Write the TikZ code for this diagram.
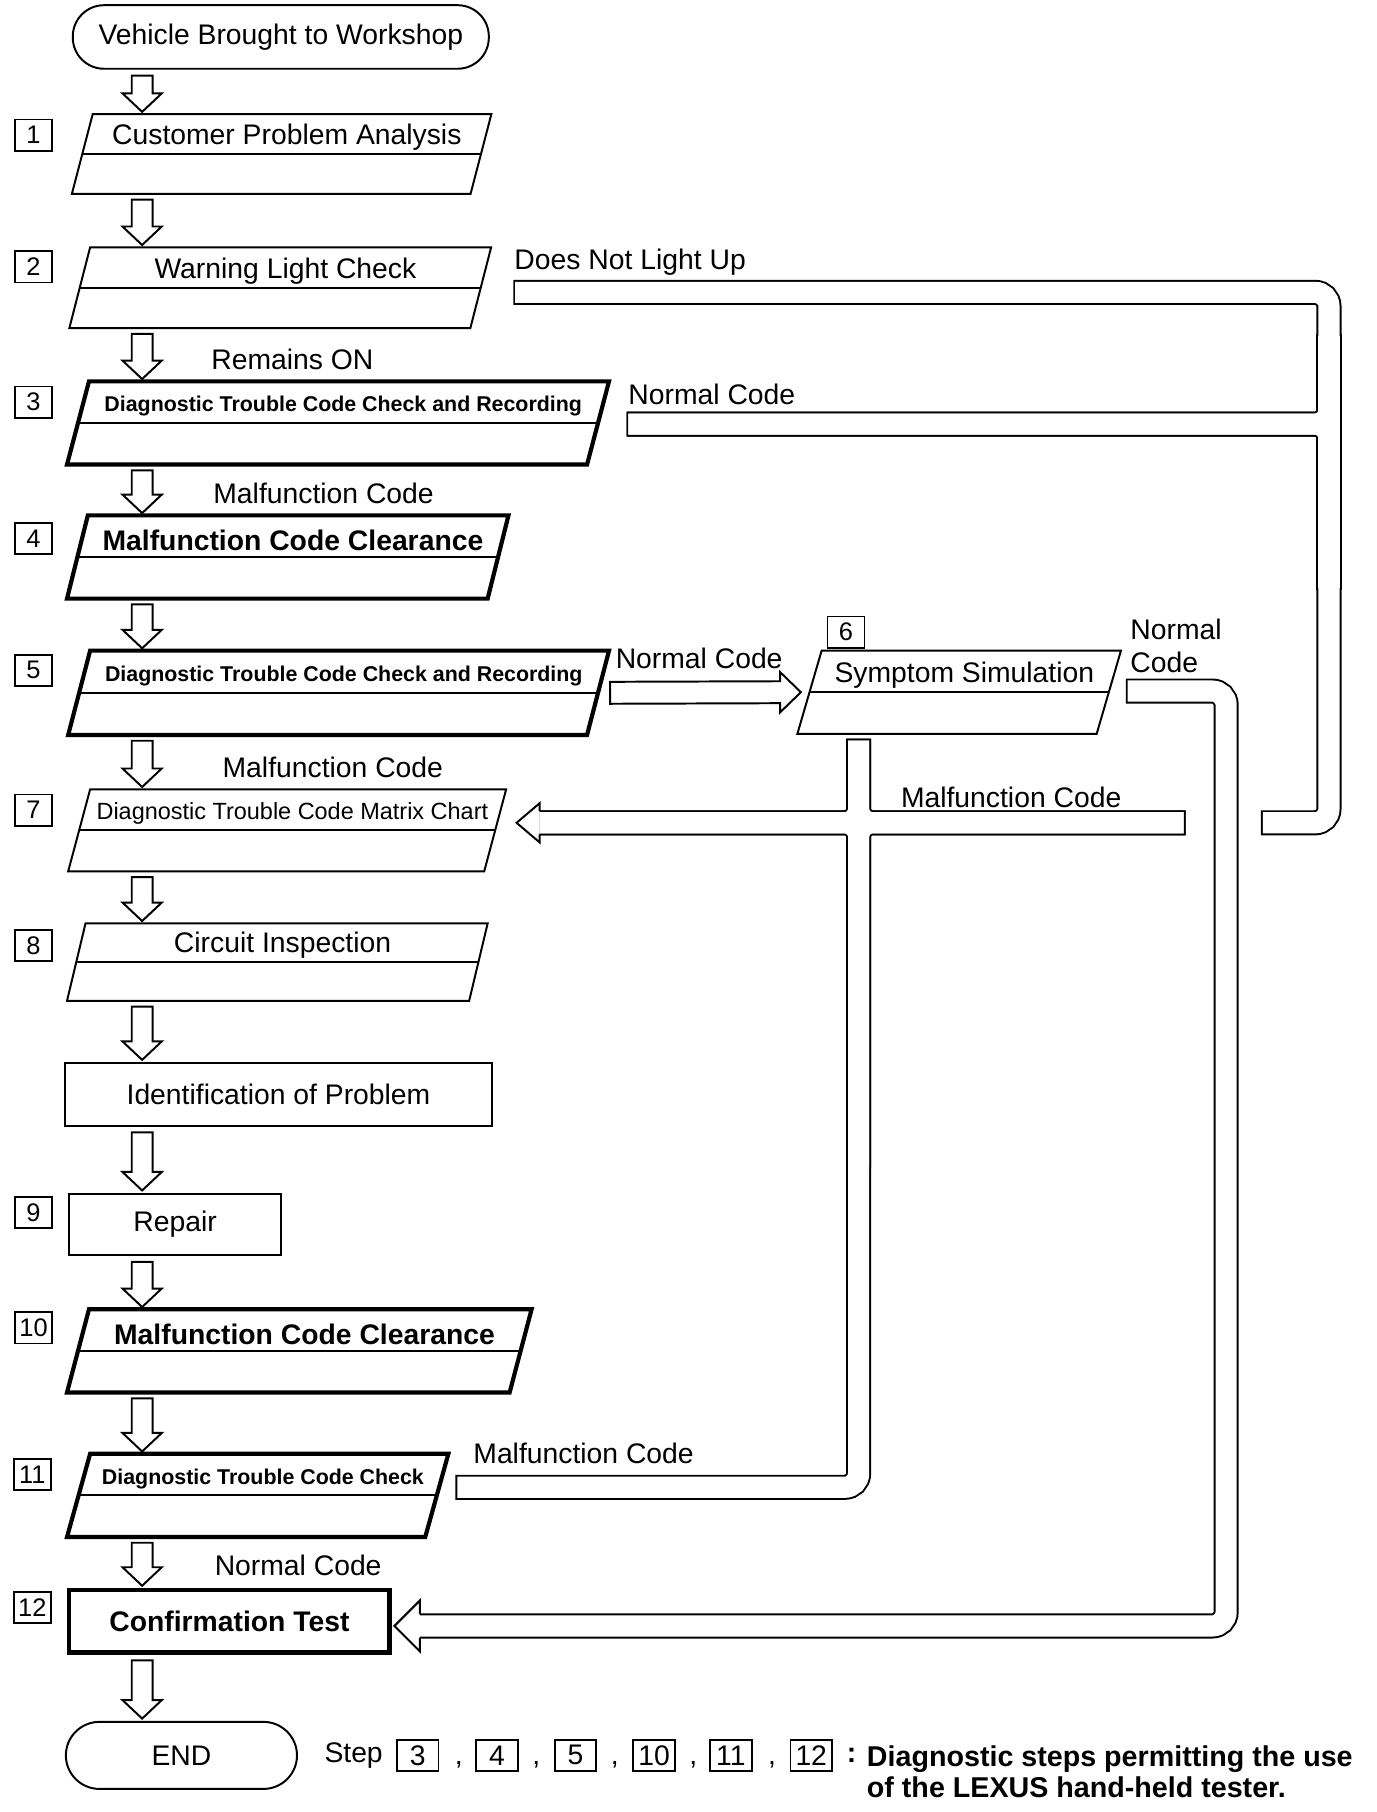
\documentclass[tikz,border=0pt]{standalone}
\usepackage{fontspec}
\setmainfont{Liberation Sans}
\usetikzlibrary{calc}

\newcommand\fmain{\fontsize{24.5}{28}\selectfont}
\newcommand\fbold{\fontsize{24.5}{28}\selectfont\bfseries}
\newcommand\fdtc{\fontsize{18.5}{22}\selectfont\bfseries}
\newcommand\fchart{\fontsize{20.3}{24}\selectfont}
\newcommand\fnum{\fontsize{22}{26}\selectfont}
\newcommand\fnote{\fontsize{24.8}{27}\selectfont\bfseries}

\newcommand\flow[2]{\draw[harrow] ($(ax |- #1.south)+(-9,5)$) -- ($(ax |- #2.north)+(-9,-18)$) -- ($(ax |- #2.north)+(-17,-18)$) -- ($(ax |- #2.north)+(0,-2)$) -- ($(ax |- #2.north)+(17,-18)$) -- ($(ax |- #2.north)+(9,-18)$) -- ($(ax |- #1.south)+(9,5)$) -- cycle;}

\begin{document}
\begin{tikzpicture}[x=1pt, y=-1pt,
  every node/.style={font=\fmain, inner sep=0},
  pbox/.style={outer sep=0},
  ptext/.style={xshift=4.5pt, yshift=14.5pt},
  term/.style={draw, line width=1.7pt, rounded corners=#1},
  rbox/.style={draw, line width=1.7pt},
  numbox/.style={draw, line width=1.5pt, minimum width=32, minimum height=27, font=\fnum},
  harrow/.style={draw, fill=white, line width=1.7pt},
  wall/.style={line width=21.7pt, line cap=rect, rounded corners=12},
  hole/.style={white, line width=18.3pt, line cap=rect, rounded corners=12}]
\path[fill=white, use as bounding box] (0,0) rectangle (1191,1568);
\coordinate (ax) at (123,0);

\node[term=27, minimum width=360, minimum height=55] (start) at (243,32) {Vehicle Brought to Workshop};
\node[pbox, minimum width=363, minimum height=69, label={[ptext]center:Customer Problem Analysis}] (s1) at (243.7,133.3) {};
\node[pbox, minimum width=365, minimum height=70, label={[ptext]center:Warning Light Check}] (s2) at (242.5,249) {};
\node[pbox, minimum width=469, minimum height=72, label={[ptext,font=\fdtc]center:Diagnostic Trouble Code Check and Recording}] (s3) at (292.5,366) {};
\node[pbox, minimum width=382, minimum height=72, label={[ptext,font=\fbold]center:Malfunction Code Clearance}] (s4) at (249,482) {};
\node[pbox, minimum width=468, minimum height=73, label={[ptext,font=\fdtc]center:Diagnostic Trouble Code Check and Recording}] (s5) at (293,599.5) {};
\node[pbox, minimum width=280, minimum height=72, label={[ptext]center:Symptom Simulation}] (s6) at (830,599) {};
\node[pbox, minimum width=379, minimum height=71, label={[ptext,font=\fchart]center:Diagnostic Trouble Code Matrix Chart}] (s7) at (248.5,718.5) {};
\node[pbox, minimum width=364, minimum height=67, label={[ptext]center:Circuit Inspection}] (s8) at (240,832.5) {};
\node[rbox, minimum width=370, minimum height=54] (ident) at (241,947) {Identification of Problem};
\node[rbox, minimum width=183, minimum height=53] (s9) at (151.5,1059.5) {Repair};
\node[pbox, minimum width=402, minimum height=72, label={[ptext,font=\fbold]center:Malfunction Code Clearance}] (s10) at (259,1169) {};
\node[pbox, minimum width=330, minimum height=72, label={[ptext,font=\fdtc]center:Diagnostic Trouble Code Check}] (s11) at (223,1294) {};
\node[rbox, line width=3.6pt, minimum width=277, minimum height=54, font=\fbold] (s12) at (198.5,1403) {Confirmation Test};
\node[term=29, minimum width=200, minimum height=58] (end) at (157,1519) {END};

\foreach \n/\s/\w in {s1/18/1.7pt, s2/18/1.7pt, s3/19/3.6pt, s4/18/3.6pt, s5/19/3.6pt, s6/21/1.7pt, s7/19/1.7pt, s8/16/1.7pt, s10/19/3.6pt, s11/20/3.6pt}{
  \draw[line width=\w] ($(\n.north west)+(\s,0)$) -- (\n.north east) -- ($(\n.south east)-(\s,0)$) -- (\n.south west) -- cycle;
  \draw[line width=1.7pt] ($(\n.west)+(\s/2,0)$) -- ($(\n.east)-(\s/2,0)$);
}

\foreach \k/\x/\y in {1/29/117, 2/29/231, 3/29/348, 4/29/466, 5/29/580, 6/732/547, 7/29/701, 8/29/818, 9/29/1049, 10/29/1149, 11/28/1276, 12/28/1391}
  \node[numbox] (n\k) at (\x,\y) {\k};

\flow{start}{s1} \flow{s1}{s2} \flow{s2}{s3} \flow{s3}{s4} \flow{s4}{s5} \flow{s5}{s7} \flow{s7}{s8}
\flow{s8}{ident} \flow{ident}{s9} \flow{s9}{s10} \flow{s10}{s11} \flow{s11}{s12} \flow{s12}{end}

\node (rem) at (253,311) {Remains ON};
\node[anchor=west] (tdnl) at (445,227) {Does Not Light Up};
\node (tnc3) at (616,341) {Normal Code};
\node (tmc4) at (280,427) {Malfunction Code};
\node (tnc5) at (605,570) {Normal Code};
\node[anchor=west, align=left] (tnc6) at (978,559) {Normal\\Code};
\node (tmc7) at (288,664) {Malfunction Code};
\node (tmc6) at (875,690) {Malfunction Code};
\node (tmc11) at (505,1258) {Malfunction Code};
\node (tnc12) at (258,1355) {Normal Code};

\coordinate (dnl) at ($(s2.east)+(30,4)$);
\coordinate (nc3) at ($(s3.east)+(26,1)$);
\coordinate (mc6) at ($(s6.south)+(-87,15)$);
\coordinate (a7) at ($(s7.east)+(9,-6.5)$);
\coordinate (mc11) at ($(s11.east)+(17,-7)$);
\coordinate (nc6) at ($(s6.east)+(15,-1)$);
\coordinate (a12) at ($(s12.east)+(2.5,4)$);

\foreach \st in {wall,hole}{
  \draw[\st] (dnl) -- (1150,253) -- (1150,367) -- (nc3);
  \draw[\st] (nc3) -- (1150,367) -- (1150,712) -- (1102,712);
  \draw[\st] (1150,300) -- (1150,500);
  \draw[\st] (mc6) -- (743,712) -- ($(a7)+(29,0)$);
  \draw[\st] (mc6) -- (743,712) -- (1015,712);
  \draw[\st] (mc11) -- (743,1287) -- (743,712) -- ($(a7)+(29,0)$);
  \draw[\st] (743,1000) -- (743,712) -- (1015,712);
  \draw[\st] (nc6) -- (1061,598) -- (1061,1407) -- ($(a12)+(31,0)$);
}
\fill[white] ($(a7)+(20,-17)$) -- (a7) -- ($(a7)+(20,17)$) -- cycle;
\draw[line width=1.7pt] ($(a7)+(20,-10)$) -- ($(a7)+(20,-17)$) -- (a7) -- ($(a7)+(20,17)$) -- ($(a7)+(20,10)$);
\fill[white] ($(a12)+(22,-22)$) -- (a12) -- ($(a12)+(22,22)$) -- cycle;
\draw[line width=1.7pt] ($(a12)+(22,-10)$) -- ($(a12)+(22,-22)$) -- (a12) -- ($(a12)+(22,22)$) -- ($(a12)+(22,10)$);

\draw[harrow] ($(s5.east)+(1,-9.5)$) -- ($(s6.west)+(-15,-9.5)$) -- ($(s6.west)+(-15,-17.5)$) -- ($(s6.west)+(3,0)$) -- ($(s6.west)+(-15,17.5)$) -- ($(s6.west)+(-15,9.5)$) -- ($(s5.east)+(1,9.5)$) -- cycle;

\node (stp) at (306,1519) {Step};
\foreach \k/\x in {3/361.5, 4/430, 5/498, 10/566, 11/632.5, 12/702}
  \node[numbox, minimum width=36, font=\fmain] (k\k) at (\x,1519) {\k};
\foreach \c/\x in {1/397, 2/464, 3/532, 4/600, 5/668}
  \node (c\c) at (\x,1527) {,};
\node[font=\fbold] (col) at (737,1519) {:};
\node[anchor=west, align=left, font=\fnote] (note) at (750,1533.5) {Diagnostic steps permitting the use\\of the LEXUS hand-held tester.};
\end{tikzpicture}
\end{document}
